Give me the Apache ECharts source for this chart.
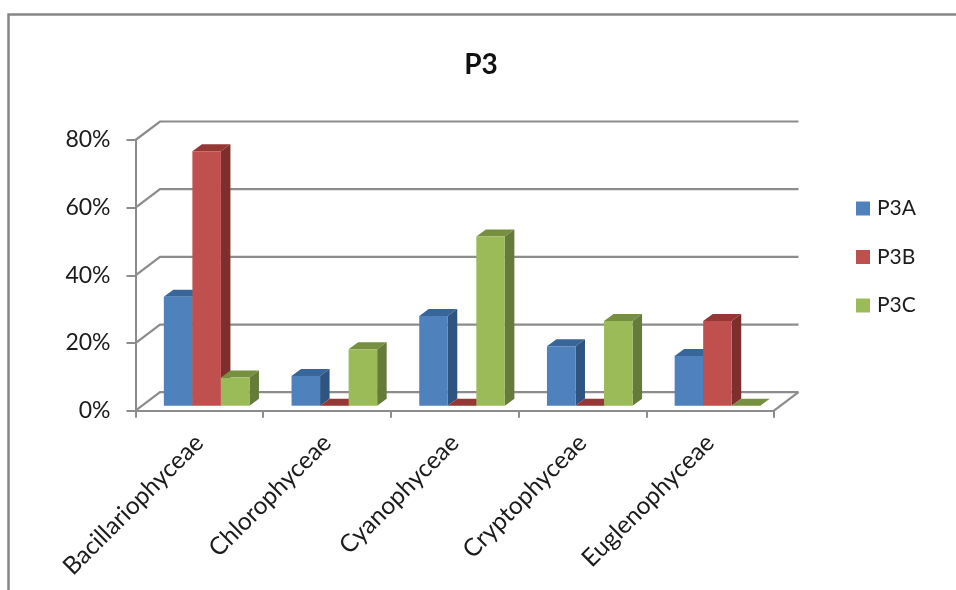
<!DOCTYPE html>
<html>
<head>
<meta charset="utf-8">
<title>P3</title>
<script src="https://cdn.jsdelivr.net/npm/echarts@6/dist/echarts.min.js"></script>
<style>
  html, body { margin: 0; padding: 0; background: #fff; }
  #main { width: 956px; height: 590px; }
</style>
</head>
<body>
<div id="main"></div>
<script>
const categories = ["Bacillariophyceae", "Chlorophyceae", "Cyanophyceae", "Cryptophyceae", "Euglenophyceae"];
const p3a = [32.2, 8.8, 26.5, 17.6, 14.7];
const p3b = [75.2, 0, 0, 0, 25];
const p3c = [8.3, 16.7, 50, 25, 0];
const yTicks = [0, 20, 40, 60, 80];

const lineColor = "#8c8c8c";
const textColor = "#1c1c1c";
const fontFamily = "Lato, sans-serif";

// fake 3d: how far the back wall and the bars sit from the front plane
const wallDepth = { x: 24.5, y: -18.5 };
const barShift = { x: 7.3, y: -5 };
const barDepth = { x: 9.5, y: -7 };
const barRatio = 0.2235; // bar width / category width

const chart = echarts.init(document.getElementById("main"));

function renderWall(params, api) {
  const cs = params.coordSys;
  const y = api.coord([0, api.value(0)])[1];
  const back = [cs.x + wallDepth.x, y + wallDepth.y];
  const children = [{
    type: "polyline",
    shape: { points: [[cs.x, y], back, [cs.x + cs.width + wallDepth.x, back[1]]] },
    style: { fill: null, stroke: lineColor, lineWidth: 2.2 }
  }];
  if (api.value(0) === 0) {
    children.push({
      type: "line",
      shape: { x1: cs.x + cs.width, y1: y, x2: cs.x + cs.width + wallDepth.x, y2: back[1] },
      style: { stroke: lineColor, lineWidth: 2.2 }
    });
  }
  return { type: "group", children };
}

function barRenderer(index, front, top, side) {
  return function (params, api) {
    const band = api.size([1, 0])[0];
    const w = band * barRatio;
    const p = api.coord([api.value(0), api.value(1)]);
    const base = api.coord([api.value(0), 0])[1] + barShift.y;
    const x = p[0] + barShift.x + (index - 1.5) * w;
    const y = p[1] + barShift.y;
    const dx = barDepth.x, dy = barDepth.y;
    return {
      type: "group",
      children: [
        {
          type: "polygon",
          shape: { points: [[x, y], [x + dx, y + dy], [x + w + dx, y + dy], [x + w, y]] },
          style: { fill: top }
        },
        {
          type: "polygon",
          shape: { points: [[x + w, y], [x + w + dx, y + dy], [x + w + dx, base + dy], [x + w, base]] },
          style: { fill: side }
        },
        {
          type: "rect",
          shape: { x: x, y: y, width: w, height: base - y },
          style: { fill: front }
        }
      ]
    };
  };
}

function barSeries(name, values, index, front, top, side) {
  return {
    name,
    type: "custom",
    z: 3,
    clip: false,
    itemStyle: { color: front },
    renderItem: barRenderer(index, front, top, side),
    encode: { x: 0, y: 1 },
    data: values.map((v, i) => [i, v])
  };
}

chart.setOption({
  animation: false,
  backgroundColor: "#fff",
  title: {
    text: "P3",
    left: 481,
    top: 51,
    padding: 0,
    textAlign: "center",
    textStyle: { color: "#111", fontFamily, fontSize: 28, fontWeight: "bold" }
  },
  legend: {
    data: ["P3A", "P3B", "P3C"],
    orient: "vertical",
    left: 856,
    top: 198,
    padding: 0,
    itemWidth: 14,
    itemHeight: 14,
    itemGap: 27.5,
    icon: "rect",
    textStyle: { color: textColor, fontFamily, fontSize: 21, lineHeight: 19, padding: [0, 0, 0, 2] }
  },
  grid: { left: 135.5, right: 182, top: 140, height: 270.7 },
  xAxis: {
    type: "category",
    data: categories,
    axisLine: { show: true, lineStyle: { color: lineColor, width: 2 } },
    axisTick: { show: true, length: 7, lineStyle: { color: lineColor, width: 2 } },
    axisLabel: {
      rotate: 45,
      interval: 0,
      margin: 28,
      color: textColor,
      fontFamily,
      fontSize: 24.5
    }
  },
  yAxis: {
    type: "value",
    min: 0,
    max: 80,
    interval: 20,
    splitLine: { show: false },
    axisLine: { show: true, lineStyle: { color: lineColor, width: 2 } },
    axisTick: { show: true, length: 9, lineStyle: { color: lineColor, width: 2 } },
    axisLabel: {
      formatter: "{value}%",
      margin: 25,
      color: textColor,
      fontFamily,
      fontSize: 23
    }
  },
  graphic: [{
    // outer chart frame, cut off by the picture on the right and at the bottom
    type: "polyline",
    shape: { points: [[8.5, 590], [8.5, 14.5], [956, 14.5]] },
    style: { fill: null, stroke: "#868686", lineWidth: 2.5 }
  }],
  series: [
    {
      name: "wall",
      type: "custom",
      z: 1,
      clip: false,
      renderItem: renderWall,
      encode: { y: 0 },
      data: yTicks.map(v => [v])
    },
    barSeries("P3A", p3a, 0, "#4f81bd", "#38659a", "#2f5480"),
    barSeries("P3B", p3b, 1, "#c0504d", "#953735", "#7e2f2d"),
    barSeries("P3C", p3c, 2, "#9bbb59", "#769040", "#647b3a")
  ]
});
</script>
</body>
</html>
